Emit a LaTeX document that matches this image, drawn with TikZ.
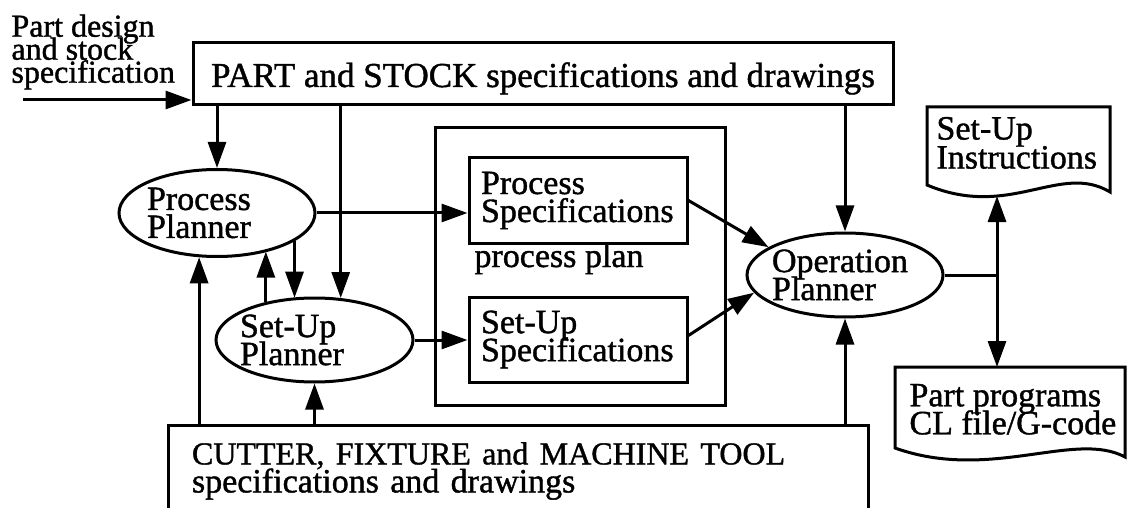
\documentclass[tikz,border=0pt]{standalone}
\usepackage{fontspec}
\setmainfont[FakeBold=1.2]{Liberation Serif}
\usetikzlibrary{arrows.meta,shapes.geometric}
\newcommand\mytightlines{\lineskiplimit=-100pt\relax\hyphenpenalty=10000\relax}
\newcommand\mysize[2]{\fontsize{#1}{#2}\selectfont\mytightlines}
\begin{document}
\lineskiplimit=-100pt\relax
\begin{tikzpicture}[x=1pt,y=-1pt,
  line width=3pt,
  every node/.style={font=\mysize{34}{28}, inner sep=0pt},
  arr/.style={-{Triangle[length=26pt,width=18pt]}},
  box/.style={draw, rectangle, align=left},
  planner/.style={draw, ellipse, align=left},
  txt/.style={align=left, anchor=north west},
]
\clip (0,0) rectangle (1128,508);

% boxes
\node[box, minimum width=700pt, minimum height=62pt, font=\mysize{35}{28},
      text height=30pt, text depth=4pt] (top) at (543,74) {PART and STOCK specifications and drawings};
\node[draw, rectangle, minimum width=290pt, minimum height=277pt] (plan) at (580,266.5) {};
\node[box, minimum width=218pt, minimum height=85pt, text width=194pt, inner xsep=12pt] (ps) at (578,200.5) {Process\\Specifications};
\node[box, minimum width=218pt, minimum height=85pt, text width=194pt, inner xsep=12pt] (ss) at (578,339.5) {Set-Up\\Specifications};
\node[anchor=base west] (plantxt) at (473,267) {process plan};
\node[box, minimum width=700pt, minimum height=92pt, text width=652pt, inner xsep=24pt] (bot) at (518,471) {{\mysize{32}{28}CUTTER, FIXTURE and MACHINE TOOL}\\specifications and drawings};

% planners
\node[planner, minimum width=196pt, minimum height=87pt, text width=140pt, inner xsep=-2pt] (pp) at (217,213) {Process\\Planner};
\node[planner, minimum width=197pt, minimum height=84pt, text width=149pt, inner xsep=-5pt] (sp) at (314.5,340) {Set-Up\\Planner};
\node[planner, minimum width=196pt, minimum height=84pt, text width=146pt, inner xsep=-4pt] (op) at (845,275) {Operation\\Planner};

% input text
\node[txt, font=\mysize{32}{23}] (intxt) at (10,13) {Part design\\and stock\\specification};

% documents
\node[txt, font=\mysize{34}{29}] (sui) at (935,115.5) {Set-Up\\Instructions};
\draw (927,185) -- (927,107) -- (1110,107) -- (1110,192) .. controls (1060,162) and (1010,220) .. (927,185) -- cycle;
\node[txt, font=\mysize{34}{28}] (ppg) at (908,382.5) {Part programs\\CL file/G-code};
\draw (895,448) -- (895,367) -- (1125,367) -- (1125,457) .. controls (1075,430) and (990,482) .. (895,448) -- cycle;

% coordinates
\coordinate (in) at (23,100);
\coordinate (jx) at (997,0);
\coordinate (j) at (op.east -| jx);
\coordinate (suib) at (997,196);
\coordinate (ppgt) at (997,367);

% connectors
\draw[arr] (in) -- (in -| top.west);
\draw[arr] (top.south -| pp.north) -- (pp.north);
\draw[arr] (top.south -| sp.58) -- (sp.58);
\draw[arr] (top.south -| op.north) -- (op.north);
\draw[arr] (sp.142) -- (sp.142 |- pp.-37);
\draw[arr] (pp.-20) -- (pp.-20 |- sp.119);
\draw[arr] (bot.north -| pp.-112) -- (pp.-112);
\draw[arr] (bot.north -| sp.south) -- (sp.south);
\draw[arr] (bot.north -| op.south) -- (op.south);
\draw[arr] (pp.east) -- (pp.east -| ps.west);
\draw[arr] (sp.east) -- (sp.east -| ss.west);
\draw[arr] (ps.east) -- (op.160);
\draw[arr] ([yshift=4pt]ss.east) -- (op.191);
\draw (op.east) -- (j);
\draw[arr] (j) -- (suib);
\draw[arr] (j) -- (ppgt);
\end{tikzpicture}
\end{document}
